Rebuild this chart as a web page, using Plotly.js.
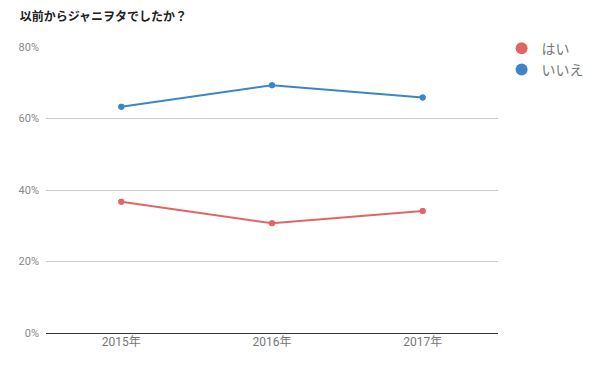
<!DOCTYPE html>
<html><head><meta charset="utf-8">
<script src="https://cdn.plot.ly/plotly-3.0.1.min.js"></script>
<style>html,body{margin:0;padding:0;background:#fff}#c{width:598px;height:367px}</style>
</head><body><div id="c"></div>
<script>
const years = ['2015年','2016年','2017年'];
const hai = [0.367, 0.307, 0.341];
const iie = [0.633, 0.693, 0.659];
const seriesNames = ['はい','いいえ'];
const colors = ['#e06666','#3d85c6'];
const font = 'Roboto, "Noto Sans CJK JP", sans-serif';
const traces = [];
[hai, iie].forEach((v,i)=>{
  traces.push({
    x: years, y: v, name: seriesNames[i], type:'scatter', mode:'lines+markers', showlegend:false,
    line:{color:colors[i], width:2}, marker:{color:colors[i], size:6}
  });
  traces.push({
    x: years, y: v, name: seriesNames[i], type:'scatter', mode:'markers', showlegend:true,
    marker:{color:colors[i], size:6}
  });
});
Plotly.newPlot('c', traces, {
  width:598, height:367,
  margin:{l:46, r:100, t:47, b:34, autoexpand:false},
  paper_bgcolor:'#fff', plot_bgcolor:'#fff',
  title:{text:'<b>以前からジャニヲタでしたか？</b>', xref:'container', xanchor:'left', x:0.033, yref:'container', y:0.953, yanchor:'middle',
    font:{family:font, size:12, color:'#222'}},
  xaxis:{range:[-0.5,2.5], showgrid:false, zeroline:false, showline:false, ticks:'',
    tickfont:{family:font, size:12, color:'#777'}},
  yaxis:{range:[0,0.8], dtick:0.2, tickformat:'.0%', gridcolor:'#cccccc', gridwidth:1,
    zeroline:true, zerolinecolor:'#333', zerolinewidth:1, showline:false, ticks:'',
    ticklabelstandoff:6, tickfont:{family:font, size:11, color:'#888'}},
  showlegend:true,
  legend:{x:1.008, xanchor:'left', y:1.05, yanchor:'top', font:{family:font, size:14, color:'#777'},
    itemsizing:'constant', itemwidth:30, tracegroupgap:2},
  hovermode:false
}, {displayModeBar:false, staticPlot:true});
</script></body></html>
